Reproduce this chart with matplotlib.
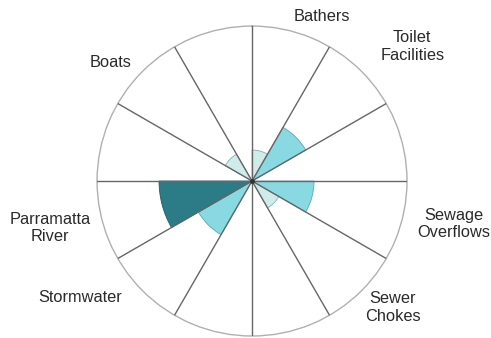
import numpy as np
import matplotlib
matplotlib.use("Agg")
import matplotlib.pyplot as plt

plt.rcParams['font.family'] = ['Liberation Sans', 'DejaVu Sans']

# 12 slots of 30 degrees, clockwise from 12 o'clock
categories = ["Bathers", "Toilet\nFacilities", "", "Sewage\nOverflows", "Sewer\nChokes", "",
              "", "Stormwater", "Parramatta\nRiver", "", "Boats", ""]
values = [1, 2, 0, 2, 1, 0, 0, 2, 3, 0, 1, 0]
r_max = 5

level_colors = {1: "#d0ecea", 2: "#88d9e2", 3: "#2c7c88"}
level_edges = {1: "#7fb3b3", 2: "#5aa9b3", 3: "#1f5d66"}

# label placement (theta deg clockwise from north, radius relative to r_max)
label_pos = {0: (23, 1.15), 1: (50, 1.35), 3: (102, 1.33), 4: (132, 1.22),
             7: (236, 1.34), 8: (257, 1.34), 10: (310, 1.19)}

fig = plt.figure(figsize=(4.91, 3.38), dpi=100)
ax = fig.add_axes([0.1976, 0.0059, 0.6314, 0.917], projection="polar")
ax.set_theta_zero_location("N")
ax.set_theta_direction(-1)

n = len(values)
width = 2 * np.pi / n
theta = (np.arange(n) + 0.5) * width

for t, v in zip(theta, values):
    if v > 0:
        ax.bar(t, v, width=width, bottom=0, color=level_colors[v],
               edgecolor=level_edges[v], linewidth=0.6, zorder=2)

# spokes
for k in range(n):
    ax.plot([k * width, k * width], [0, r_max], color="#666666", lw=1.0, zorder=3)
ax.plot(0, 0, "o", color="#333333", ms=2.5, zorder=4)

ax.set_ylim(0, r_max)
ax.set_xticks([])
ax.set_yticks([])
ax.grid(False)
ax.spines["polar"].set_color("#b0b0b0")
ax.spines["polar"].set_linewidth(1.0)

for i, (a, r) in label_pos.items():
    ax.text(np.deg2rad(a), r * r_max, categories[i], ha="center", va="center",
            fontsize=11.8, color="#2a2a2a", multialignment="center", linespacing=1.2)

fig.savefig("out.png", dpi=100)
